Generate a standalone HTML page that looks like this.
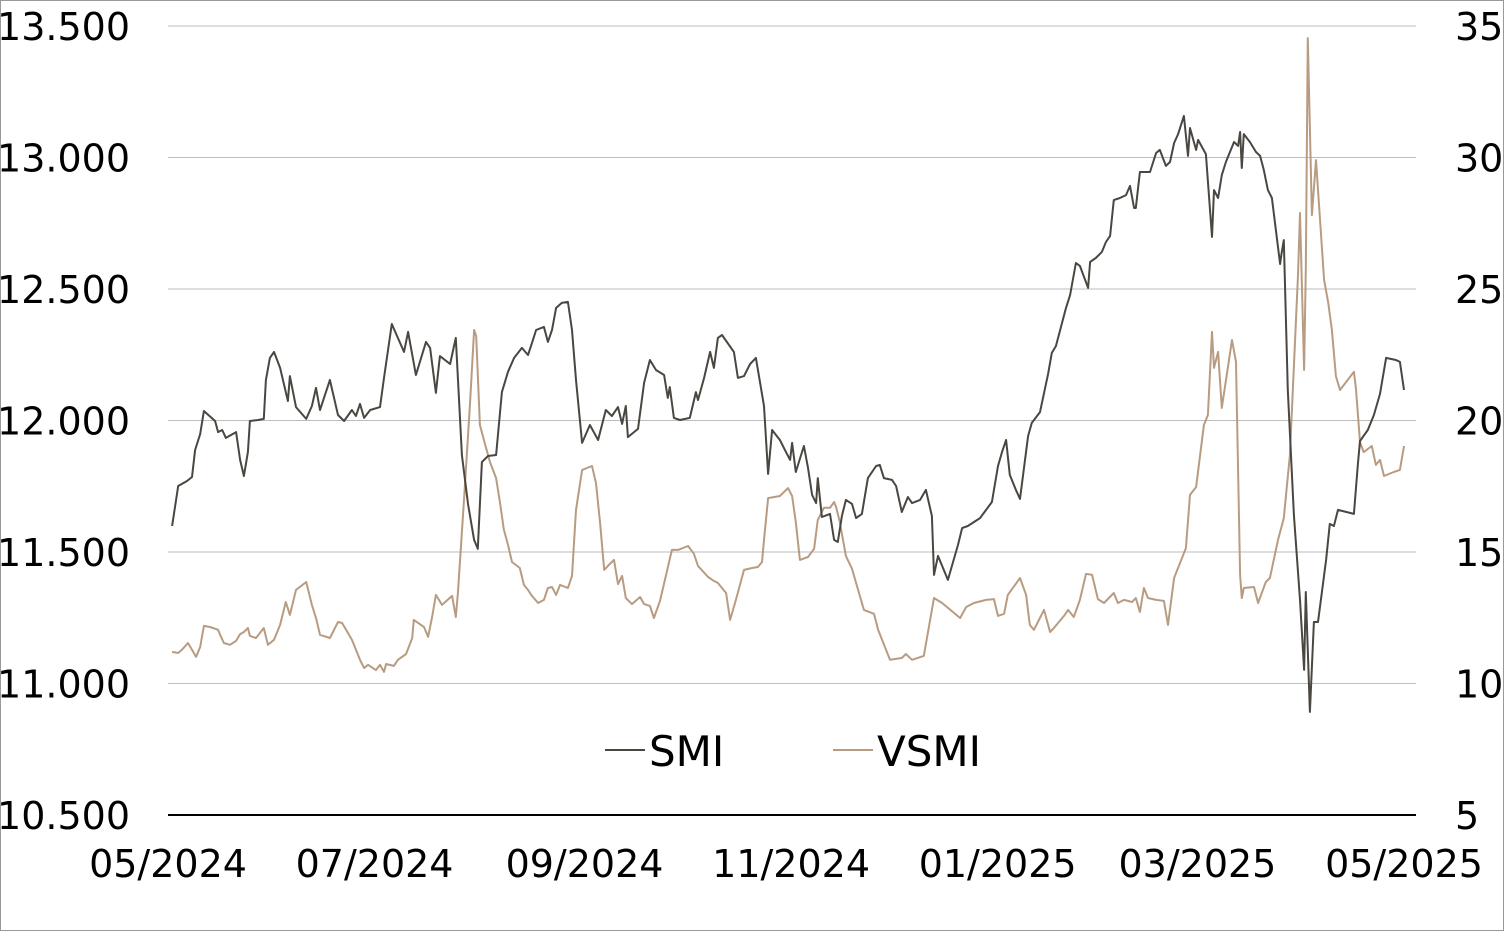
<!DOCTYPE html>
<html><head><meta charset="utf-8"><style>
html,body{margin:0;padding:0;background:#fff}
svg{display:block}
text{font-family:"DejaVu Sans","Liberation Sans",sans-serif;font-size:38px;fill:#000}
</style></head><body>
<svg id="chart" width="1504" height="931" viewBox="0 0 1504 931" xmlns="http://www.w3.org/2000/svg">
<rect x="0.5" y="0.5" width="1503" height="930" fill="#fff" stroke="#999"/>
<g id="grid"></g><g id="series"></g><g id="labels"></g>
<g>
<line x1="605" y1="750" x2="645" y2="750" stroke="#4a4640" stroke-width="2"/>
<text x="649" y="766" style="font-size:42px">SMI</text>
<line x1="833" y1="750" x2="873" y2="750" stroke="#b89c82" stroke-width="2"/>
<text x="877" y="766" style="font-size:42px">VSMI</text>
</g>
</svg>
<script>
const leftTicks=[10500,11000,11500,12000,12500,13000,13500];
const leftTickLabels=["10.500","11.000","11.500","12.000","12.500","13.000","13.500"];
const rightTicks=[5,10,15,20,25,30,35];
const xTickDays=[0,61,123,184,245,304,365];
const xTickLabels=["05/2024","07/2024","09/2024","11/2024","01/2025","03/2025","05/2025"];
const smiDays=[1.2,3,5.6,7.1,8,9.5,10.6,13.9,14.8,16,17.1,20.1,21.3,22.4,23.6,24.2,26.6,28.3,28.9,30.1,31.3,33.1,35.4,36,37.8,40.8,42.5,43.7,44.9,47.8,50.2,52,54.3,55.5,56.7,57.9,59.7,62.6,63.8,66.1,69.7,70.9,73.2,76.2,77.4,79.1,80.3,83.3,85,86.8,88.6,90.4,91.5,92.7,94.5,96.9,98.6,100.4,102.2,104.5,106.3,107.5,108.7,111,112.2,113.4,114.6,116.3,118.1,119.3,120.5,122.3,124.6,127,129.3,131.1,132.9,134.1,135.2,135.8,138.8,140.6,142.3,144.1,146.5,147.6,148.2,149.4,151.2,154.1,155.9,156.5,158.3,160.1,161.2,162.4,163.6,167.1,168.3,170.1,171.9,173.6,176,177.2,178.4,180.7,182.5,183.7,184.3,185.4,187.8,189,190.2,191.4,191.9,193.1,195.5,196.7,197.8,199,200.2,202,203.2,204.9,206.7,209.1,210.2,211.4,213.8,215,216.7,218.5,219.7,222.1,223.8,225.6,226.2,227.4,230.3,233.3,234.5,236.2,239.8,241.6,243.3,245.1,246.3,247.5,248.6,250.4,251.6,254,255.1,257.5,259.9,261,262.2,265.2,266.4,268.1,269.3,271.7,272.3,274,275.8,277,278.2,279.3,281.1,282.9,284.1,285.3,285.8,287,290,291.8,292.9,294.7,295.9,297.1,298.3,300,301.2,301.8,303.6,304.2,306.5,308.3,308.9,310.1,311.2,312.4,314.8,316,316.6,317.1,317.7,319.5,321.3,322.5,323.6,324.8,326,328.4,328.9,329.5,330.7,332.5,334.3,335.5,336,337.2,338.4,339.6,342,343.1,344.3,345.5,350.2,351.4,352,354.3,356.1,357.9,359.7,362.6,363.8,365];
const smiValues=[11599,11751,11770,11785,11888,11949,12036,11998,11956,11964,11934,11956,11850,11789,11880,11998,12002,12006,12154,12238,12261,12200,12074,12169,12051,12006,12055,12124,12040,12154,12021,11998,12040,12017,12063,12010,12040,12051,12162,12367,12261,12337,12173,12299,12276,12105,12245,12215,12314,11869,11683,11546,11512,11842,11865,11869,12108,12185,12238,12276,12249,12295,12344,12356,12299,12344,12428,12447,12451,12344,12154,11915,11983,11926,12040,12017,12051,11987,12055,11937,11968,12143,12230,12192,12173,12086,12127,12010,12002,12010,12108,12078,12162,12261,12200,12314,12325,12261,12162,12169,12215,12238,12055,11797,11964,11926,11880,11850,11915,11804,11903,11820,11717,11686,11781,11633,11645,11546,11538,11637,11698,11683,11629,11645,11781,11827,11831,11781,11774,11751,11652,11709,11686,11698,11736,11637,11413,11485,11394,11527,11591,11599,11629,11660,11690,11827,11880,11926,11793,11736,11702,11941,11991,12032,12177,12257,12283,12428,12477,12599,12588,12504,12603,12618,12641,12679,12702,12838,12846,12857,12892,12808,12808,12945,12945,13017,13029,12968,12983,13055,13089,13158,13006,13112,13029,13067,13013,12698,12876,12846,12933,12983,13059,13044,13097,12960,13089,13059,13021,13006,12953,12876,12846,12595,12641,12686,12116,11641,11318,11052,11348,10892,11234,11234,11470,11607,11599,11660,11645,11835,11922,11964,12021,12101,12238,12230,12223,12116];
const vsmiDays=[1.2,3,4.1,5.9,7.1,8.3,9.5,10.6,12.4,14.8,15.4,16.5,18.3,20.1,21.3,22.4,23.6,24.2,26,28.3,29.5,31.3,33.1,34.8,36,37.8,40.8,42.5,43.7,44.9,47.8,50.2,51.4,52.6,54.3,56.7,57.9,59.1,61.4,62.6,63.8,64.4,66.7,67.9,70.3,72.1,72.6,75.6,76.8,78,79.1,80.9,83.9,85,85.6,87.4,89.2,90.4,91,92.1,93.3,95.1,96.9,98,99.2,100.4,101.6,103.9,105.1,106.3,107.5,109.3,111,112.2,113.4,114.6,115.8,118.1,119.3,120.5,122.3,125.2,126.4,127.6,128.8,129.9,131.7,132.9,134.1,135.2,137,139.4,140.6,142.3,143.5,145.3,147.1,148.8,150.6,153.6,155.3,156.5,159.5,161.2,162.4,164.8,166,167.7,170.1,172.5,174.2,175.4,176,177.2,180.7,181.9,183.1,184.3,185.4,186.6,189,190.8,191.9,193.7,195.5,196.7,197.3,198.4,200.2,202,203.8,205.5,208.5,209.7,213.2,216.7,217.9,219.7,223.2,226.2,228.6,233.9,235.7,238,241.6,243.9,245.1,246.9,248,251.6,253.4,254.5,255.7,256.9,258.7,260.5,261.6,264.6,265.8,267.5,269.3,271.1,272.9,274.6,276.4,279.3,280.5,282.3,284.7,285.8,287,288.2,289.4,291.8,294.1,295.3,297.1,300.6,301.8,303.6,305.9,307.1,308.3,308.9,310.1,311.2,314.2,315.4,316.6,317.1,317.7,320.7,321.9,324.2,325.4,327.8,329.5,331.3,333.7,334.3,335.5,336,336.6,337.8,339,341.4,342.6,343.7,344.9,346.1,350.2,350.8,352,353.1,355.5,356.7,357.9,359.1,362,363.8,365];
const vsmiValues=[11.20,11.16,11.28,11.54,11.28,11.01,11.39,12.19,12.15,12.04,11.85,11.54,11.47,11.62,11.88,11.96,12.11,11.81,11.73,12.11,11.47,11.66,12.23,13.10,12.61,13.56,13.86,12.99,12.49,11.85,11.73,12.34,12.30,12.04,11.66,10.90,10.59,10.71,10.51,10.71,10.44,10.74,10.67,10.90,11.12,11.73,12.42,12.15,11.77,12.53,13.37,12.99,13.33,12.53,13.44,16.98,20.70,23.44,23.21,19.83,19.26,18.42,17.81,16.90,15.84,15.27,14.62,14.39,13.75,13.56,13.33,13.06,13.18,13.63,13.67,13.37,13.75,13.63,14.09,16.60,18.12,18.27,17.62,16.10,14.32,14.47,14.70,13.78,14.09,13.25,13.02,13.29,13.02,12.95,12.49,13.14,14.13,15.08,15.08,15.23,14.93,14.47,14.05,13.90,13.82,13.44,12.42,13.18,14.32,14.39,14.43,14.62,15.46,17.05,17.13,17.28,17.43,17.13,16.14,14.70,14.81,15.12,16.22,16.68,16.68,16.90,16.71,16.14,14.85,14.36,13.56,12.80,12.65,12.04,10.90,10.97,11.12,10.90,11.05,13.25,13.06,12.49,12.91,13.06,13.18,13.21,12.57,12.65,13.37,14.01,13.37,12.23,12.04,12.34,12.80,11.96,12.11,12.57,12.80,12.53,13.18,14.17,14.13,13.21,13.06,13.44,13.06,13.18,13.10,13.25,12.72,13.63,13.25,13.18,13.14,12.23,14.01,15.15,17.17,17.47,19.83,20.21,23.37,22.00,22.61,20.48,23.06,22.23,14.13,13.25,13.63,13.67,13.06,13.86,14.01,15.46,16.29,18.69,25.53,27.89,21.92,25.72,34.54,27.81,29.90,25.34,24.51,23.44,21.69,21.16,21.85,21.24,19.18,18.80,19.03,18.31,18.50,17.89,18.04,18.12,19.03];

const NS="http://www.w3.org/2000/svg";
const X0=168,X1=1404,Y0=815,Y1=26;
const xScale=d=>X0+(d/365)*(X1-X0);
const yLeft=v=>Y0-(v-10500)/3000*(Y0-Y1);
const yRight=v=>Y0-(v-5)/30*(Y0-Y1);
const grid=document.getElementById('grid'),series=document.getElementById('series'),labels=document.getElementById('labels');
function mk(tag,attrs,parent){const e=document.createElementNS(NS,tag);for(const k in attrs)e.setAttribute(k,attrs[k]);parent.appendChild(e);return e;}
leftTicks.forEach((v,i)=>{
  const y=yLeft(v);
  const gl=mk('line',{x1:168,x2:1416,y1:y,y2:y,stroke:i===0?'#000':'#bdbdbd','stroke-width':i===0?2:1},grid);
  
  
  const t=mk('text',{x:130,y:y+14,'text-anchor':'end'},labels);t.textContent=leftTickLabels[i];
  
  
});
rightTicks.forEach(v=>{
  const t=mk('text',{x:1455,y:yRight(v)+14,'text-anchor':'start'},labels);t.textContent=String(v);
  
  
});
xTickDays.forEach((d,i)=>{
  const t=mk('text',{x:xScale(d),y:877,'text-anchor':'middle'},labels);t.textContent=xTickLabels[i];
  
  
});
function line(days,vals,ys,color,name){
  const pts=days.map((d,i)=>xScale(d).toFixed(1)+','+ys(vals[i]).toFixed(1)).join(' ');
  const p=mk('polyline',{points:pts,fill:'none',stroke:color,'stroke-width':2,'stroke-linejoin':'round'},series);
  
  
}
line(vsmiDays,vsmiValues,yRight,'#b89c82','vsmi-line');
line(smiDays,smiValues,yLeft,'#4a4640','smi-line');
</script>
</body></html>
